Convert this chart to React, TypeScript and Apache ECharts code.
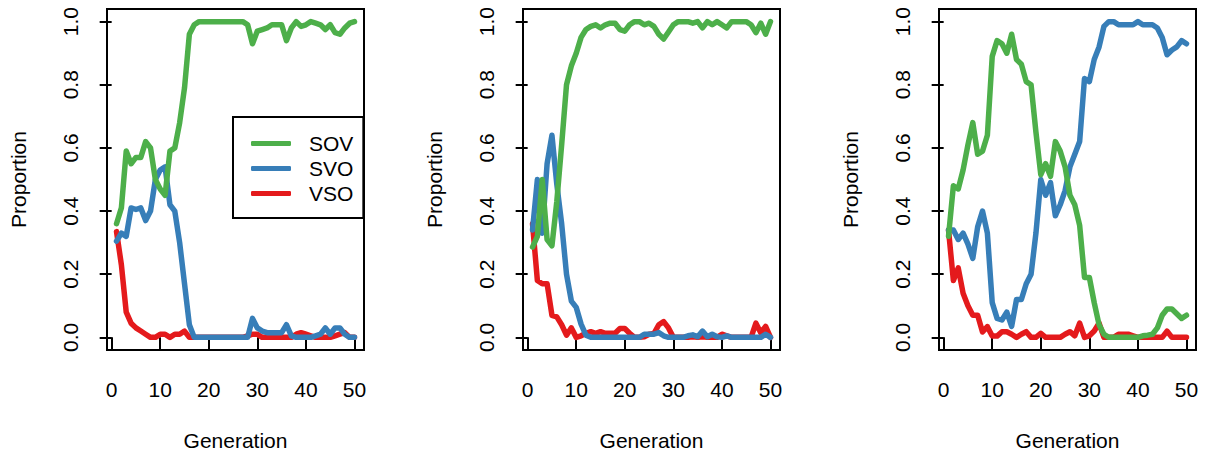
import React, { useEffect, useRef } from "react";
import * as echarts from "echarts";

// ---- data ----
const generations = Array.from({ length: 50 }, (_, i) => i + 1);
const xTicks = [0, 10, 20, 30, 40, 50];
const yTicks = [0, 0.2, 0.4, 0.6, 0.8, 1.0];
const seriesNames = ["SOV", "SVO", "VSO"];

// Panel 1
const sov1 = [0.36, 0.41, 0.59, 0.55, 0.57, 0.57, 0.62, 0.60, 0.50, 0.47,
  0.45, 0.59, 0.60, 0.68, 0.79, 0.96, 0.99, 1.0, 1.0, 1.0,
  1.0, 1.0, 1.0, 1.0, 1.0, 1.0, 1.0, 0.99, 0.93, 0.97,
  0.975, 0.98, 0.99, 0.99, 0.99, 0.94, 0.98, 1.0, 0.985, 0.99,
  1.0, 0.995, 0.99, 0.975, 0.99, 0.965, 0.96, 0.98, 0.995, 1.0];
const svo1 = [0.305, 0.33, 0.32, 0.41, 0.405, 0.41, 0.37, 0.40, 0.50, 0.53,
  0.54, 0.42, 0.40, 0.30, 0.17, 0.04, 0, 0, 0, 0,
  0, 0, 0, 0, 0, 0, 0, 0, 0.06, 0.03,
  0.02, 0.015, 0.015, 0.015, 0.015, 0.04, 0.005, 0, 0, 0,
  0, 0.005, 0.01, 0.03, 0.01, 0.03, 0.03, 0.01, 0, 0];
const vso1 = [0.335, 0.23, 0.08, 0.045, 0.03, 0.02, 0.01, 0.0, 0.0, 0.01,
  0.01, 0.0, 0.01, 0.01, 0.02, 0.0, 0, 0, 0, 0,
  0, 0, 0, 0, 0, 0, 0, 0.005, 0.01, 0.01,
  0.0, 0, 0, 0, 0, 0, 0, 0.01, 0.015, 0.01,
  0.005, 0, 0, 0, 0, 0.005, 0.01, 0.015, 0, 0];

// Panel 2
const sov2 = [0.286, 0.32, 0.50, 0.31, 0.29, 0.43, 0.61, 0.80, 0.86, 0.90,
  0.95, 0.975, 0.985, 0.99, 0.98, 0.99, 0.995, 0.995, 0.975, 0.97,
  0.99, 1.0, 1.0, 0.99, 0.995, 0.985, 0.96, 0.945, 0.967, 0.99,
  1.0, 1.0, 1.0, 0.995, 1.0, 0.98, 1.0, 0.99, 1.0, 0.99,
  0.98, 1.0, 1.0, 1.0, 1.0, 0.99, 0.965, 0.995, 0.96, 1.0];
const svo2 = [0.34, 0.50, 0.33, 0.55, 0.64, 0.485, 0.36, 0.20, 0.115, 0.095,
  0.042, 0.007, 0, 0, 0, 0, 0, 0, 0, 0,
  0, 0, 0, 0.01, 0.01, 0.01, 0.015, 0.005, 0, 0,
  0, 0, 0.005, 0.008, 0.002, 0.02, 0.002, 0.01, 0.002, 0,
  0.005, 0, 0, 0, 0, 0, 0, 0, 0.01, 0];
const vso2 = [0.36, 0.18, 0.17, 0.17, 0.07, 0.065, 0.04, 0.007, 0.03, 0.0,
  0.005, 0.013, 0.018, 0.013, 0.018, 0.013, 0.013, 0.013, 0.028, 0.028,
  0.013, 0, 0, 0.002, 0.01, 0.012, 0.04, 0.05, 0.03, 0,
  0, 0, 0, 0.002, 0, 0.002, 0, 0, 0, 0.01,
  0.005, 0, 0, 0, 0, 0, 0.045, 0.015, 0.035, 0];

// Panel 3
const sov3 = [0.32, 0.48, 0.47, 0.53, 0.61, 0.68, 0.58, 0.59, 0.64, 0.89,
  0.94, 0.93, 0.90, 0.96, 0.88, 0.865, 0.81, 0.80, 0.65, 0.515,
  0.55, 0.51, 0.62, 0.59, 0.54, 0.45, 0.42, 0.355, 0.19, 0.19,
  0.11, 0.04, 0.01, 0, 0, 0, 0, 0, 0, 0,
  0.005, 0.007, 0.01, 0.03, 0.07, 0.09, 0.09, 0.075, 0.06, 0.07];
const svo3 = [0.34, 0.34, 0.31, 0.33, 0.295, 0.25, 0.35, 0.40, 0.33, 0.11,
  0.06, 0.055, 0.08, 0.035, 0.12, 0.12, 0.17, 0.20, 0.33, 0.50,
  0.45, 0.49, 0.385, 0.42, 0.465, 0.54, 0.58, 0.62, 0.82, 0.81,
  0.88, 0.92, 0.985, 1.0, 1.0, 0.99, 0.99, 0.99, 0.99, 1.0,
  0.99, 0.99, 0.99, 0.98, 0.95, 0.895, 0.91, 0.92, 0.94, 0.93];
const vso3 = [0.34, 0.18, 0.22, 0.14, 0.10, 0.07, 0.07, 0.017, 0.034, 0.004,
  0.004, 0.018, 0.018, 0.01, 0.0, 0.01, 0.018, 0.0, 0.0, 0.013,
  0, 0, 0, 0, 0.01, 0.018, 0.005, 0.045, 0, 0.005,
  0.02, 0.045, 0, 0, 0, 0.01, 0.01, 0.01, 0.005, 0,
  0, 0, 0, 0, 0, 0.02, 0, 0, 0, 0];

const panels = [
  { SOV: sov1, SVO: svo1, VSO: vso1 },
  { SOV: sov2, SVO: svo2, VSO: vso2 },
  { SOV: sov3, SVO: svo3, VSO: vso3 },
];

const colors: Record<string, string> = { SOV: "#4DAF4A", SVO: "#377EB8", VSO: "#E41A1C" };

const FONT = "'Liberation Sans', Arial, Helvetica, sans-serif";
const FS = 21;
const panelLefts = [107, 523, 939];

export default function App() {
  const ref = useRef<HTMLDivElement>(null);
  useEffect(() => {
    if (!ref.current) return;
    const chart = echarts.init(ref.current, null, { renderer: "svg" });
    const grid = panelLefts.map((left) => ({
      left, top: 9, width: 257, height: 342,
      show: true, borderColor: "#000", borderWidth: 2, backgroundColor: "transparent",
    }));
    const xAxis = panelLefts.map((_, i) => ({
      gridIndex: i, type: "value", min: -0.96, max: 51.96,
      axisLine: { show: false }, splitLine: { show: false },
      axisTick: { show: true, length: 12, customValues: xTicks, lineStyle: { color: "#000", width: 2 } },
      axisLabel: { customValues: xTicks, margin: 29, fontSize: FS, color: "#000", fontFamily: FONT },
      name: "Generation", nameLocation: "middle", nameGap: 80,
      nameTextStyle: { fontSize: FS, color: "#000", fontFamily: FONT },
    }));
    const yAxis = panelLefts.map((_, i) => ({
      gridIndex: i, type: "value", min: -0.04, max: 1.04,
      axisLine: { show: false }, splitLine: { show: false },
      axisTick: { show: true, length: 12, customValues: yTicks, lineStyle: { color: "#000", width: 2 } },
      axisLabel: {
        customValues: yTicks, rotate: 90, margin: 26, fontSize: FS, color: "#000", fontFamily: FONT,
        formatter: (v: number) => v.toFixed(1),
      },
      name: "Proportion", nameLocation: "middle", nameGap: 78, nameRotate: 90,
      nameTextStyle: { fontSize: FS, color: "#000", fontFamily: FONT },
    }));
    const series: any[] = [];
    panels.forEach((p, i) => {
      ["VSO", "SVO", "SOV"].forEach((name) => {
        const vals = (p as any)[name] as number[];
        series.push({
          name, type: "line", xAxisIndex: i, yAxisIndex: i,
          data: generations.map((g, k) => [g, vals[k]]),
          symbol: "none", showSymbol: false, silent: true,
          color: colors[name],
          lineStyle: { width: 5.5, color: colors[name], cap: "round", join: "round" },
        });
      });
    });
    chart.setOption({
      animation: false,
      backgroundColor: "#fff",
      grid, xAxis, yAxis, series,
      legend: {
        data: seriesNames, orient: "vertical", left: 233, top: 117,
        icon: "roundRect", itemWidth: 40, itemHeight: 5, itemGap: 4,
        padding: [16, 10, 14, 18], borderColor: "#000", borderWidth: 2,
        selectedMode: false,
        textStyle: { fontSize: FS, color: "#000", fontFamily: FONT, lineHeight: 21, padding: [0, 0, 0, 13] },
      },
    });
    return () => chart.dispose();
  }, []);
  return <div ref={ref} style={{ position: "absolute", left: 0, top: 0, width: 1209, height: 456 }} />;
}
